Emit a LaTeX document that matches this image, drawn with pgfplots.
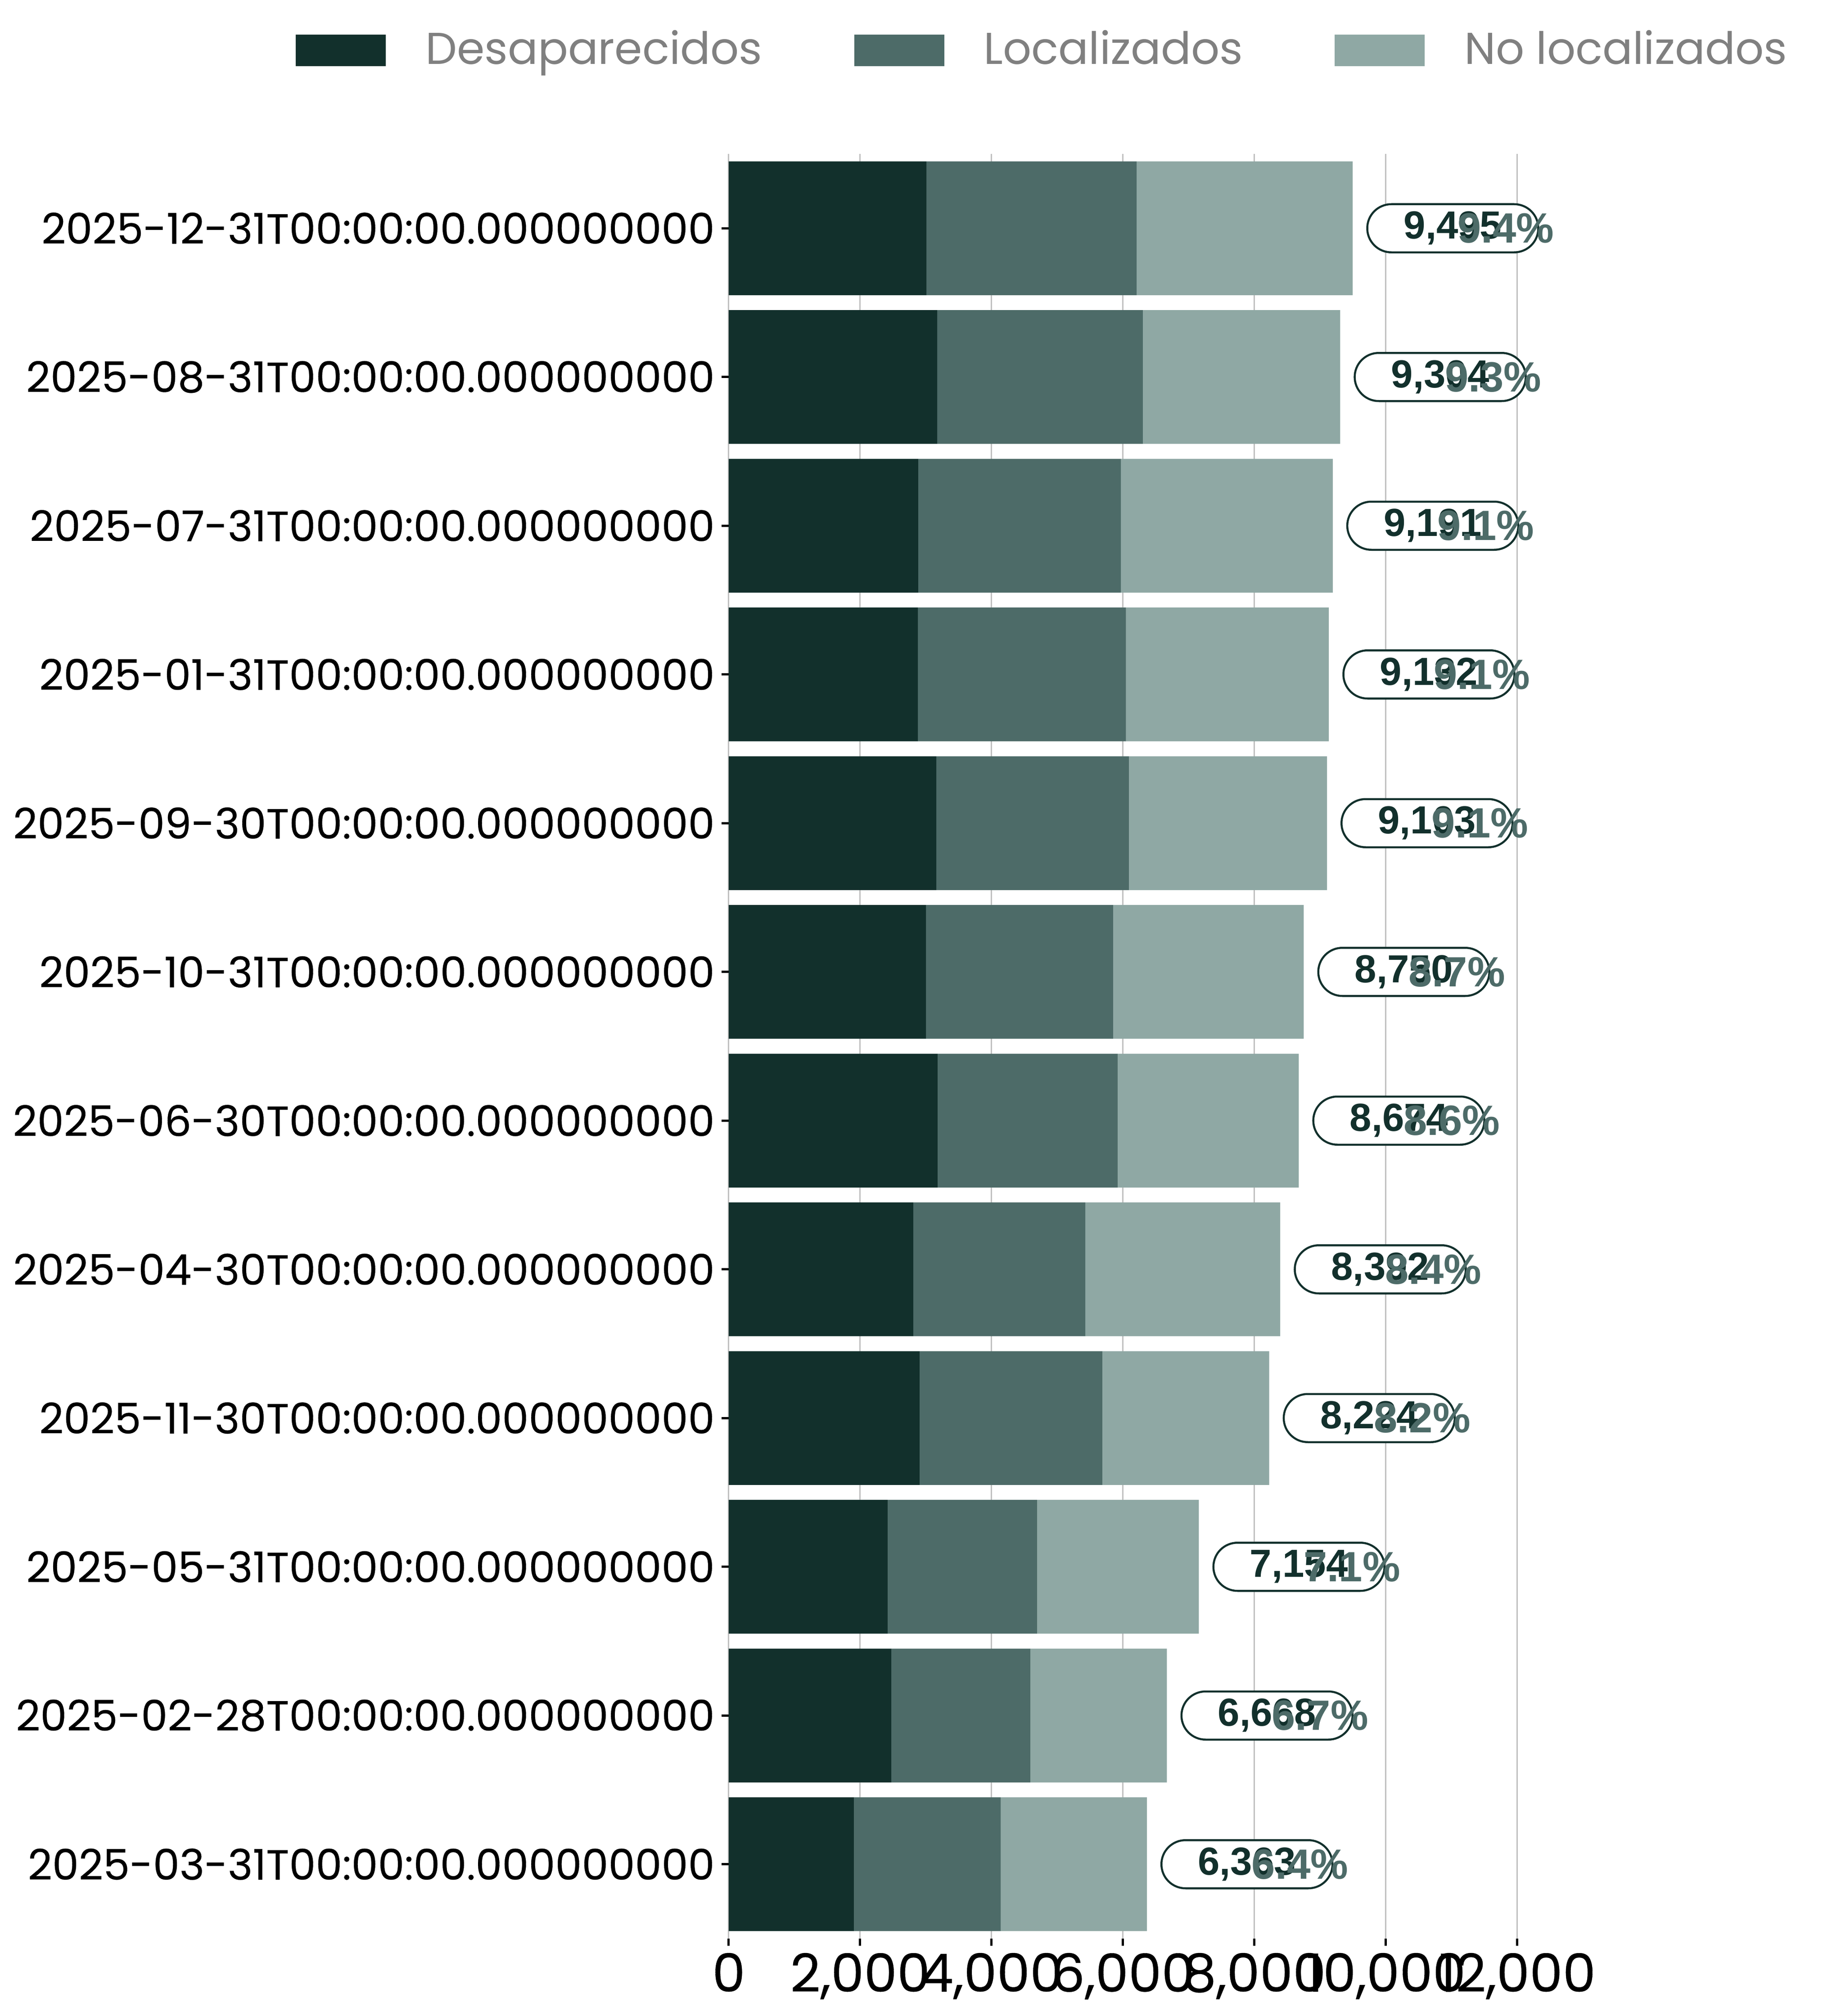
\documentclass[border=0pt]{standalone}
\usepackage{fontspec}
\setmainfont{Poppins}
\newfontfamily\popm[FakeBold=0.3]{Poppins}
\newfontfamily\arialb{Liberation Sans}
\usepackage{pgfplots}
\pgfplotsset{compat=1.18}
\usepackage{pgfplotstable}
\usetikzlibrary{shapes.misc}
\definecolor{cD}{RGB}{18,48,44}
\definecolor{cL}{RGB}{77,107,104}
\definecolor{cN}{RGB}{143,168,164}
\definecolor{cGrid}{RGB}{192,192,192}
\definecolor{cLeg}{RGB}{128,128,128}

\pgfplotstableread{
y D L N total pct
11 3008 3198 3289 9495 9.4
10 3172 3129 3003 9304 9.3
9 2883 3084 3224 9191 9.1
8 2877 3169 3086 9132 9.1
7 3158 2934 3011 9103 9.1
6 3001 2848 2901 8750 8.7
5 3178 2740 2756 8674 8.6
4 2808 2618 2966 8392 8.4
3 2903 2782 2539 8224 8.2
2 2418 2274 2462 7154 7.1
1 2473 2116 2079 6668 6.7
0 1903 2235 2225 6363 6.4
}\data

\pgfplotsset{samegeom/.style={
  at={(0pt,0pt)}, anchor=south west,
  scale only axis,
  width=175.2pt, height=396.6pt,
  xmin=0, xmax=12000,
  ymin=-0.5, ymax=11.5,
  enlargelimits=false}}

\begin{document}
\begin{tikzpicture}
\useasboundingbox (-161.9pt,-17.2pt) rectangle (243.1pt,430.8pt);
\begin{axis}[
  samegeom,
  xbar stacked,
  bar width=0.9,
  axis x line*=bottom, axis y line*=left,
  axis line style={draw=none},
  xtick={0,2000,4000,6000,8000,10000,12000},
  ytick={0,1,...,11},
  yticklabels={2025-03-31T00:00:00.000000000,2025-02-28T00:00:00.000000000,2025-05-31T00:00:00.000000000,2025-11-30T00:00:00.000000000,2025-04-30T00:00:00.000000000,2025-06-30T00:00:00.000000000,2025-10-31T00:00:00.000000000,2025-09-30T00:00:00.000000000,2025-01-31T00:00:00.000000000,2025-07-31T00:00:00.000000000,2025-08-31T00:00:00.000000000,2025-12-31T00:00:00.000000000},
  scaled x ticks=false,
  /pgf/number format/assume math mode=true,
  /pgf/number format/1000 sep={,},
  xticklabel style={font=\popm\fontsize{11.7}{14}\selectfont, inner sep=0pt, yshift=-1.4pt},
  yticklabel style={font=\popm\fontsize{9.4}{11}\selectfont, xshift=2pt},
  tick align=outside,
  major tick length=1.6pt,
  tick style={black, line width=0.5pt},
  xmajorgrids,
  grid style={cGrid, line width=0.3pt},
  legend columns=3,
  legend image code/.code={\fill[#1] (0pt,-3.5pt) rectangle (20pt,3.5pt);},
  legend style={at={(-0.549,1.058)}, anchor=west, draw=none, fill=none,
    inner sep=0pt, outer sep=0pt,
    font=\fontsize{9.9}{12}\selectfont, text=cLeg,
    nodes={inner sep=0pt},
    /tikz/every odd column/.append style={column sep=8.8pt},
    /tikz/every even column/.append style={column sep=20.4pt}},
]
\addplot[fill=cD, draw=none] table[x=D, y=y] {\data};
\addplot[fill=cL, draw=none] table[x=L, y=y] {\data};
\addplot[fill=cN, draw=none] table[x=N, y=y] {\data};
\legend{Desaparecidos, Localizados, No localizados}
\end{axis}
\begin{axis}[
  samegeom,
  hide axis,
  clip=false,
]
\addplot[draw=none, mark=none, point meta=explicit,
  nodes near coords={\pgfmathprintnumber[fixed,precision=0,1000 sep={,},assume math mode=true]{\pgfplotspointmeta}},
  every node near coord/.append style={rounded rectangle, draw=cD, line width=0.45pt,
    fill=white, text=cD, font=\arialb\bfseries\fontsize{8.7}{10}\selectfont,
    minimum width=38pt, minimum height=10.7pt, inner xsep=0pt, inner ysep=0pt,
    anchor=west, xshift=3pt}]
  table[x=total, y=y, meta=total] {\data};
\addplot[draw=none, mark=none, point meta=explicit,
  nodes near coords={\pgfmathprintnumber[fixed,fixed zerofill,precision=1,assume math mode=true]{\pgfplotspointmeta}\%},
  every node near coord/.append style={text=cL, font=\arialb\bfseries\fontsize{9.4}{11}\selectfont,
    inner sep=0pt, anchor=center, xshift=34pt}]
  table[x=total, y=y, meta=pct] {\data};
\end{axis}
\end{tikzpicture}
\end{document}
